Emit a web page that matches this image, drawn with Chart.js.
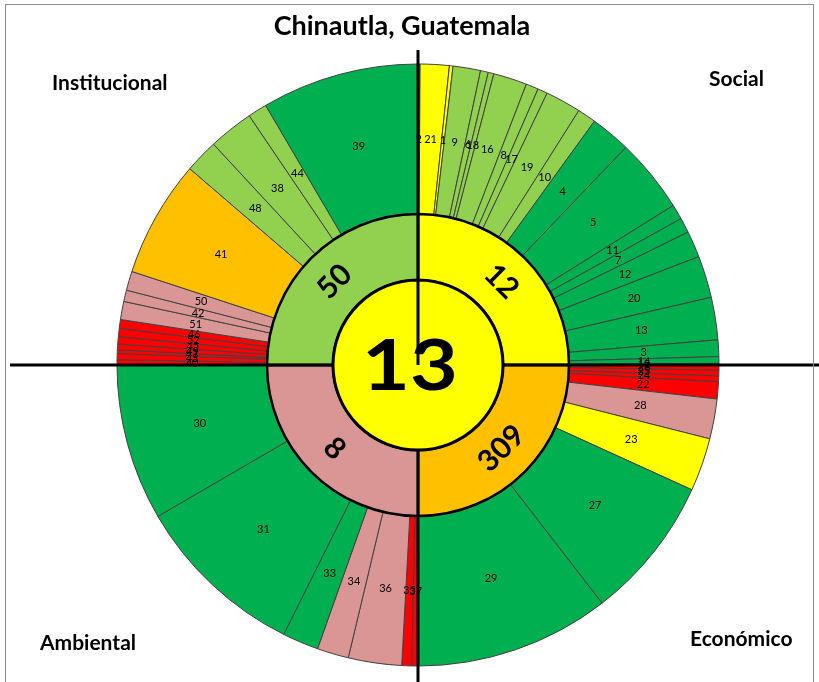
<!DOCTYPE html>
<html>
<head>
<meta charset="utf-8">
<script src="https://cdn.jsdelivr.net/npm/chart.js@4.4.1/dist/chart.umd.min.js"></script>
<style>
body { margin: 0; background: #fff; }
#wrap { position: relative; width: 819px; height: 682px; overflow: hidden; }
#frame { position: absolute; left: 5px; top: 4px; width: 807px; height: 720px; border: 1px solid #8c8c8c; pointer-events: none; }
.lbl { position: absolute; font-family: Lato, sans-serif; font-weight: bold; color: #000; line-height: 1; white-space: nowrap; }
#title { font-size: 27px; left: 0; width: 804px; text-align: center; top: 11px; }
.quad { font-size: 21px; }
canvas { position: absolute; left: 0; top: 0; }
</style>
</head>
<body>
<div id="wrap">
  <canvas id="sunburst" width="819" height="682"></canvas>
  <div id="frame"></div>
  <div class="lbl" id="title">Chinautla, Guatemala</div>
  <div class="lbl quad" style="left:52px;top:71px">Institucional</div>
  <div class="lbl quad" style="left:709px;top:67px">Social</div>
  <div class="lbl quad" style="left:40px;top:631px">Ambiental</div>
  <div class="lbl quad" style="left:690px;top:627px">Económico</div>
</div>
<script>
// valor central
var centerValue = '13';

// anillo medio: dimensiones (cada una ocupa un cuarto)
var dimNames = ['Social', 'Económico', 'Ambiental', 'Institucional'];
var dimValues = ['12', '309', '8', '50'];
var dimShare = [90, 90, 90, 90];
var dimStatus = ['amarillo', 'naranja', 'rosa', 'verdeClaro'];

// anillo exterior: indicadores por dimension (parte en grados del cuarto)
var socialLabels = ['2', '21', '1', '9', '6', '18', '16', '8', '17', '19', '10', '4', '5', '11', '7', '12', '20', '13', '3', '14', '15'];
var socialShare = [0.4, 5.6, 0.7, 5.3, 1.5, 1.1, 6.5, 2.4, 1.9, 6.9, 3.6, 7.8, 14.3, 2.9, 2.9, 5.1, 8.1, 8.2, 3.2, 1.3, 0.3];
var socialStatus = ['rojo', 'amarillo', 'amarillo', 'verdeClaro', 'verdeClaro', 'verdeClaro', 'verdeClaro', 'verdeClaro', 'verdeClaro', 'verdeClaro', 'verdeClaro',
    'verde', 'verde', 'verde', 'verde', 'verde', 'verde', 'verde', 'verde', 'verde', 'verde'];

var economicoLabels = ['26', '25', '24', '22', '28', '23', '27', '29'];
var economicoShare = [1.0, 1.1, 1.1, 3.3, 7.7, 10.3, 27.8, 37.7];
var economicoStatus = ['rojo', 'rojo', 'rojo', 'rojo', 'rosa', 'amarillo', 'verde', 'verde'];

var ambientalLabels = ['37', '35', '36', '34', '33', '31', '30'];
var ambientalShare = [1.2, 1.9, 10.3, 6.1, 7.0, 33.3, 30.2];
var ambientalStatus = ['rojo', 'rojo', 'rosa', 'rosa', 'verde', 'verde', 'verde'];

var institucionalLabels = ['40', '43', '47', '49', '45', '52', '46', '51', '42', '50', '41', '48', '38', '44', '39'];
var institucionalShare = [1.0, 1.2, 0.7, 1.1, 1.4, 1.6, 1.7, 3.5, 2.2, 3.7, 22.6, 6.5, 8.7, 3.7, 30.4];
var institucionalStatus = ['rojo', 'rojo', 'rojo', 'rojo', 'rojo', 'rojo', 'rojo', 'rosa', 'rosa', 'rosa', 'naranja', 'verdeClaro', 'verdeClaro', 'verdeClaro', 'verde'];

var colores = {
    rojo: '#FF0000',
    amarillo: '#FFFF00',
    naranja: '#FFC000',
    rosa: '#DA9694',
    verdeClaro: '#92D050',
    verde: '#00B050'
};

var outerLabels = socialLabels.concat(economicoLabels, ambientalLabels, institucionalLabels);
var outerShare = socialShare.concat(economicoShare, ambientalShare, institucionalShare);
var outerColors = socialStatus.concat(economicoStatus, ambientalStatus, institucionalStatus).map(function (s) { return colores[s]; });

var FONT = 'Lato, sans-serif';

// ejes negros (bajo el circulo central) y etiquetas
var sunburstLabels = {
    id: 'sunburstLabels',
    beforeDatasetDraw: function (chart, args) {
        if (args.index !== 2) return;
        var c = chart.getDatasetMeta(2).data[0];
        var ctx = chart.ctx;
        ctx.save();
        ctx.strokeStyle = '#000';
        ctx.lineWidth = 3;
        ctx.beginPath();
        ctx.moveTo(10, c.y);
        ctx.lineTo(chart.width, c.y);
        ctx.moveTo(c.x, c.y - 315);
        ctx.lineTo(c.x, chart.height);
        ctx.stroke();
        ctx.restore();
    },
    afterDatasetsDraw: function (chart) {
        var ctx = chart.ctx;
        ctx.save();
        ctx.fillStyle = '#000';
        ctx.textAlign = 'center';
        ctx.textBaseline = 'middle';

        // exterior
        ctx.font = '11px ' + FONT;
        chart.getDatasetMeta(0).data.forEach(function (arc, i) {
            var p = arc.getProps(['x', 'y', 'startAngle', 'endAngle', 'innerRadius', 'outerRadius']);
            var a = (p.startAngle + p.endAngle) / 2;
            var r = (p.innerRadius + p.outerRadius) / 2;
            ctx.fillText(outerLabels[i], p.x + Math.cos(a) * r, p.y + Math.sin(a) * r);
        });

        // medio (rotado)
        ctx.font = 'bold 30px ' + FONT;
        chart.getDatasetMeta(1).data.forEach(function (arc, i) {
            var p = arc.getProps(['x', 'y', 'startAngle', 'endAngle', 'innerRadius', 'outerRadius']);
            var a = (p.startAngle + p.endAngle) / 2;
            var r = (p.innerRadius + p.outerRadius) / 2;
            var rot = a + Math.PI / 2;
            while (rot > Math.PI / 2) rot -= Math.PI;
            while (rot <= -Math.PI / 2) rot += Math.PI;
            ctx.save();
            ctx.translate(p.x + Math.cos(a) * r, p.y + Math.sin(a) * r);
            ctx.rotate(rot);
            ctx.fillText(dimValues[i], 0, 0);
            ctx.restore();
        });

        // centro
        var c = chart.getDatasetMeta(2).data[0];
        ctx.font = 'bold 70px ' + FONT;
        ctx.translate(c.x - 8, c.y + 2);
        ctx.scale(1.18, 1);
        ctx.fillText(centerValue, 0, 0);
        ctx.restore();
    }
};

var ctx = document.getElementById('sunburst');
var sunburst = new Chart(ctx, {
    type: 'doughnut',
    data: {
        labels: outerLabels,
        datasets: [{
            label: 'Indicadores',
            data: outerShare,
            backgroundColor: outerColors,
            borderColor: '#404040',
            borderWidth: 1,
            weight: 150,
            order: 3
        }, {
            label: 'Dimensiones',
            data: dimShare,
            backgroundColor: dimStatus.map(function (s) { return colores[s]; }),
            borderColor: '#000',
            borderWidth: 2.5,
            weight: 66,
            order: 2
        }, {
            label: 'Municipio',
            data: [1],
            backgroundColor: '#FFFF00',
            borderColor: '#000',
            borderWidth: 3,
            weight: 85,
            order: 1
        }]
    },
    plugins: [sunburstLabels],
    options: {
        responsive: false,
        devicePixelRatio: 1,
        animation: false,
        events: [],
        cutout: 0,
        radius: 301,
        layout: { padding: { left: 17, right: 0, top: 48, bottom: 0 } },
        plugins: {
            legend: { display: false },
            tooltip: { enabled: false },
            title: { display: false }
        }
    }
});
</script>
</body>
</html>
